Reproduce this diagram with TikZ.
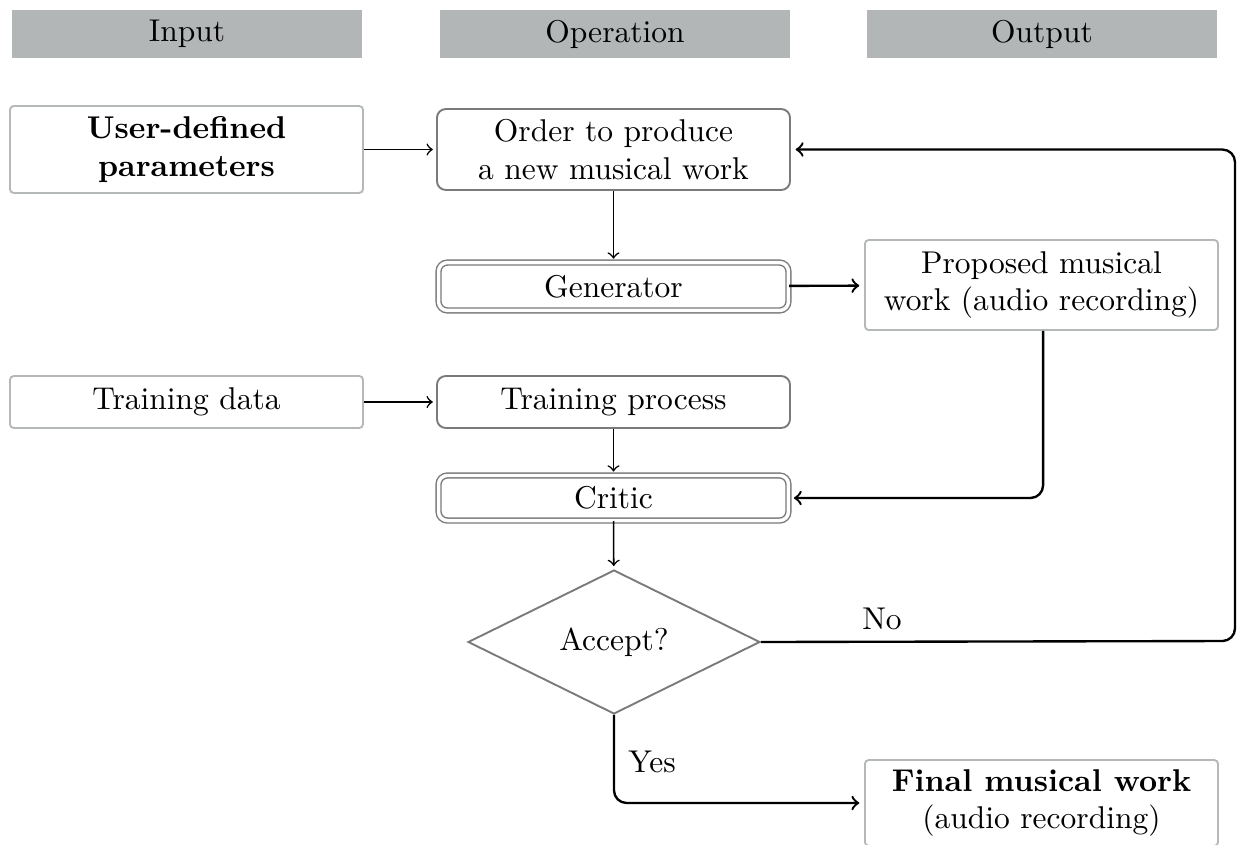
\documentclass[tikz,border=0pt]{standalone}
\usetikzlibrary{shapes.geometric}
\definecolor{barfill}{HTML}{B3B6B6}
\definecolor{lightframe}{HTML}{B5B8B8}
\definecolor{darkframe}{HTML}{7A7A7A}
\begin{document}
\begin{tikzpicture}[x=0.3175pt,y=-0.3175pt,
  header/.style={fill=barfill,draw=none,minimum width=111.1pt,minimum height=15.2pt,inner sep=0pt},
  iobox/.style={draw=lightframe,line width=0.6pt,rounded corners=1.2pt,fill=white,
    minimum width=112.1pt,align=center,inner sep=0pt},
  opbox/.style={draw=darkframe,line width=0.6pt,rounded corners=2.8pt,fill=white,
    minimum width=112.1pt,minimum height=16.5pt,align=center,inner sep=0pt},
  netbox/.style={draw=darkframe,line width=0.45pt,double=white,double distance=1.1pt,
    rounded corners=2.8pt,minimum width=111.1pt,align=center,inner sep=0pt},
  decision/.style={diamond,draw=darkframe,line width=0.6pt,minimum width=92.7pt,
    minimum height=45.7pt,inner sep=0pt},
  conn/.style={->,line width=0.5pt,shorten >=1pt},
  bigconn/.style={->,line width=0.75pt,shorten >=1.5pt,rounded corners=4pt},
  lab/.style={inner sep=0pt}]
\clip (0,0) rectangle (1237,845);
\useasboundingbox (0,0) rectangle (1237,845);

% column headings
\node[header] (hin)  at (187,34)  {Input};
\node[header] (hop)  at (615,34)  {Operation};
\node[header] (hout) at (1042,34) {Output};

% boxes
\node[iobox,minimum height=27.6pt] (user) at (186.5,149.5) {\bfseries User-defined\\\bfseries parameters};
\node[opbox,minimum height=25.7pt] (order) at (613.5,149.5) {Order to produce\\a new musical work};
\node[netbox,minimum height=15.2pt] (gen) at (613.5,286.5) {Generator};
\node[iobox,minimum height=28.6pt] (prop) at (1041.5,285) {Proposed musical\\work (audio recording)};
\node[iobox,minimum height=16.5pt] (tdata) at (186.5,402) {Training data};
\node[opbox] (tproc) at (613.5,402) {Training process};
\node[netbox,minimum height=14.3pt] (critic) at (613.5,498) {Critic};
\node[decision] (acc) at (614,642) {Accept?};
\node[iobox,minimum height=27.3pt] (final) at (1041.5,803) {\bfseries Final musical work\\(audio recording)};

% turning points of the loops
\coordinate (rlow) at (1235,641);
\coordinate (rhigh) at (1235,149.5);

% connectors
\draw[conn] (user) -- (order);
\draw[conn] (order) -- (gen);
\draw[bigconn] (gen) -- (prop);
\draw[conn] (tdata) -- (tproc);
\draw[conn] (tproc) -- (critic);
\draw[conn] (critic) -- (acc);
\draw[bigconn] ([xshift=0.5pt]prop.south) -- ([xshift=0.5pt]prop.south |- critic.east) -- (critic.east);
\draw[bigconn] (acc.east) -- (rlow) -- (rhigh) -- (order.east);
\draw[bigconn] (acc.south) -- (acc.south |- final.west) -- (final.west);

% branch labels
\node[lab] (no)  at (882,619) {No};
\node[lab] (yes) at (652,762) {Yes};
\end{tikzpicture}
\end{document}
